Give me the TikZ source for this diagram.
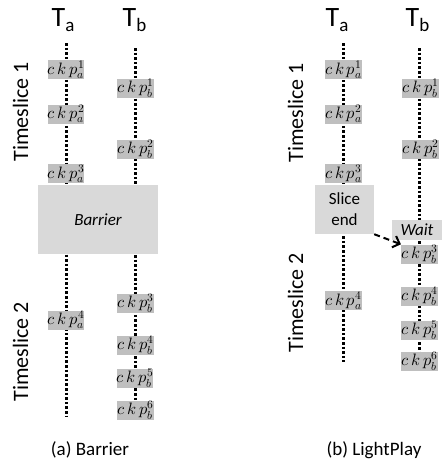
\documentclass[tikz,border=0pt]{standalone}
\usepackage{fontspec}
\usepackage{unicode-math}
\setmainfont{Carlito}
\setmathfont{Latin Modern Math}
\usetikzlibrary{arrows.meta}

\definecolor{ckpgray}{HTML}{BFBFBF}
\definecolor{boxgray}{HTML}{D9D9D9}

\newcommand{\ckp}[2]{$c\mkern3mu k\mkern3mu p_{#1}^{#2}$}

\tikzset{
  thread/.style={line width=3pt, dash pattern=on 2.6pt off 2pt},
  ckpbox/.style={fill=ckpgray, inner sep=0pt, minimum width=36pt, minimum height=19pt,
                 font=\fontsize{16.5}{16.5}\selectfont},
  bigbox/.style={fill=boxgray, inner sep=0pt},
  thr/.style={anchor=base west, inner sep=0pt, font=\fontsize{28}{28}\selectfont},
  slicelabel/.style={rotate=90, anchor=base, inner sep=0pt, font=\fontsize{22}{22}\selectfont},
  caption/.style={anchor=base, inner sep=0pt, font=\fontsize{19}{19}\selectfont},
  boxtext/.style={font=\fontsize{17}{21}\selectfont},
  waitarrow/.style={line width=2pt, dash pattern=on 6pt off 4pt,
                    -{Straight Barb[length=6pt,width=12pt,line width=2pt]}}
}

\newcommand{\thrname}[1]{T\raisebox{-5pt}{\fontsize{19}{19}\selectfont #1}}

\begin{document}
\begin{tikzpicture}[x=1pt,y=-1pt]
  \useasboundingbox (0,0) rectangle (442,463);

  % ---------------- (a) Barrier ----------------
  \node[thr] (la) at (51.5,27) {\thrname{a}};
  \node[thr] (lb) at (122.5,27) {\thrname{b}};

  \coordinate (la0) at (66,43);
  \coordinate (la1) at (66,416);
  \coordinate (lb0) at (135,48);
  \coordinate (lb1) at (135,402);
  \draw[thread] (la0) -- (la1);
  \draw[thread] (lb0) -- (lb1);

  \node[slicelabel] (lts1) at (28,112) {Timeslice 1};
  \node[slicelabel] (lts2) at (28,352) {Timeslice 2};

  \node[ckpbox] (lca1) at (66,69.5) {\ckp{a}{1}};
  \node[ckpbox] (lca2) at (66,114) {\ckp{a}{2}};
  \node[ckpbox] (lca3) at (66,173.5) {\ckp{a}{3}};
  \node[ckpbox] (lcb1) at (135.5,88) {\ckp{b}{1}};
  \node[ckpbox] (lcb2) at (135.5,149) {\ckp{b}{2}};

  \node[bigbox, minimum width=120pt, minimum height=69pt, boxtext] (barrier)
    at (98,219.5) {\itshape Barrier};

  \node[ckpbox] (lca4) at (66,320) {\ckp{a}{4}};
  \node[ckpbox] (lcb3) at (135.5,303) {\ckp{b}{3}};
  \node[ckpbox] (lcb4) at (135.5,345) {\ckp{b}{4}};
  \node[ckpbox] (lcb5) at (135,378.5) {\ckp{b}{5}};
  \node[ckpbox] (lcb6) at (135.5,410.5) {\ckp{b}{6}};

  \node[caption] (capa) at (90,455) {(a) Barrier};

  % ---------------- (b) LightPlay ----------------
  \node[thr] (ra) at (325.5,27) {\thrname{a}};
  \node[thr] (rb) at (405.5,27) {\thrname{b}};

  \coordinate (ra0) at (343,43);
  \coordinate (ra1) at (343,362);
  \coordinate (rb0) at (419,48);
  \coordinate (rb1) at (419,352);
  \draw[thread] (ra0) -- (ra1);
  \draw[thread] (rb0) -- (rb1);

  \node[slicelabel] (rts1) at (303,113) {Timeslice 1};
  \node[slicelabel] (rts2) at (303,303) {Timeslice 2};

  \node[ckpbox, minimum width=35pt] (rca1) at (343.5,69.5) {\ckp{a}{1}};
  \node[ckpbox, minimum width=35pt] (rca2) at (343.5,114) {\ckp{a}{2}};
  \node[ckpbox, minimum width=35pt] (rca3) at (343.5,173.5) {\ckp{a}{3}};
  \node[ckpbox, minimum width=37pt] (rcb1) at (420.5,88) {\ckp{b}{1}};
  \node[ckpbox, minimum width=37pt] (rcb2) at (420.5,149) {\ckp{b}{2}};

  \node[bigbox, minimum width=59pt, minimum height=49pt, boxtext, align=center]
    (slice) at (344.5,209.5) {Slice\\end};
  \node[bigbox, minimum width=50pt, minimum height=20pt, boxtext] (wait)
    at (417,230) {\itshape Wait};

  \node[ckpbox, minimum width=35pt] (rca4) at (343.5,300.5) {\ckp{a}{4}};
  \node[ckpbox, minimum width=35pt] (rcb3) at (419.5,254) {\ckp{b}{3}};
  \node[ckpbox, minimum width=35pt] (rcb4) at (419.5,296) {\ckp{b}{4}};
  \node[ckpbox, minimum width=35pt] (rcb5) at (419.5,330) {\ckp{b}{5}};
  \node[ckpbox, minimum width=35pt] (rcb6) at (419.5,361) {\ckp{b}{6}};

  \draw[waitarrow] (slice.south east) -- (rcb3.north west);

  \node[caption] (capb) at (374,455) {(b) LightPlay};
\end{tikzpicture}
\end{document}
